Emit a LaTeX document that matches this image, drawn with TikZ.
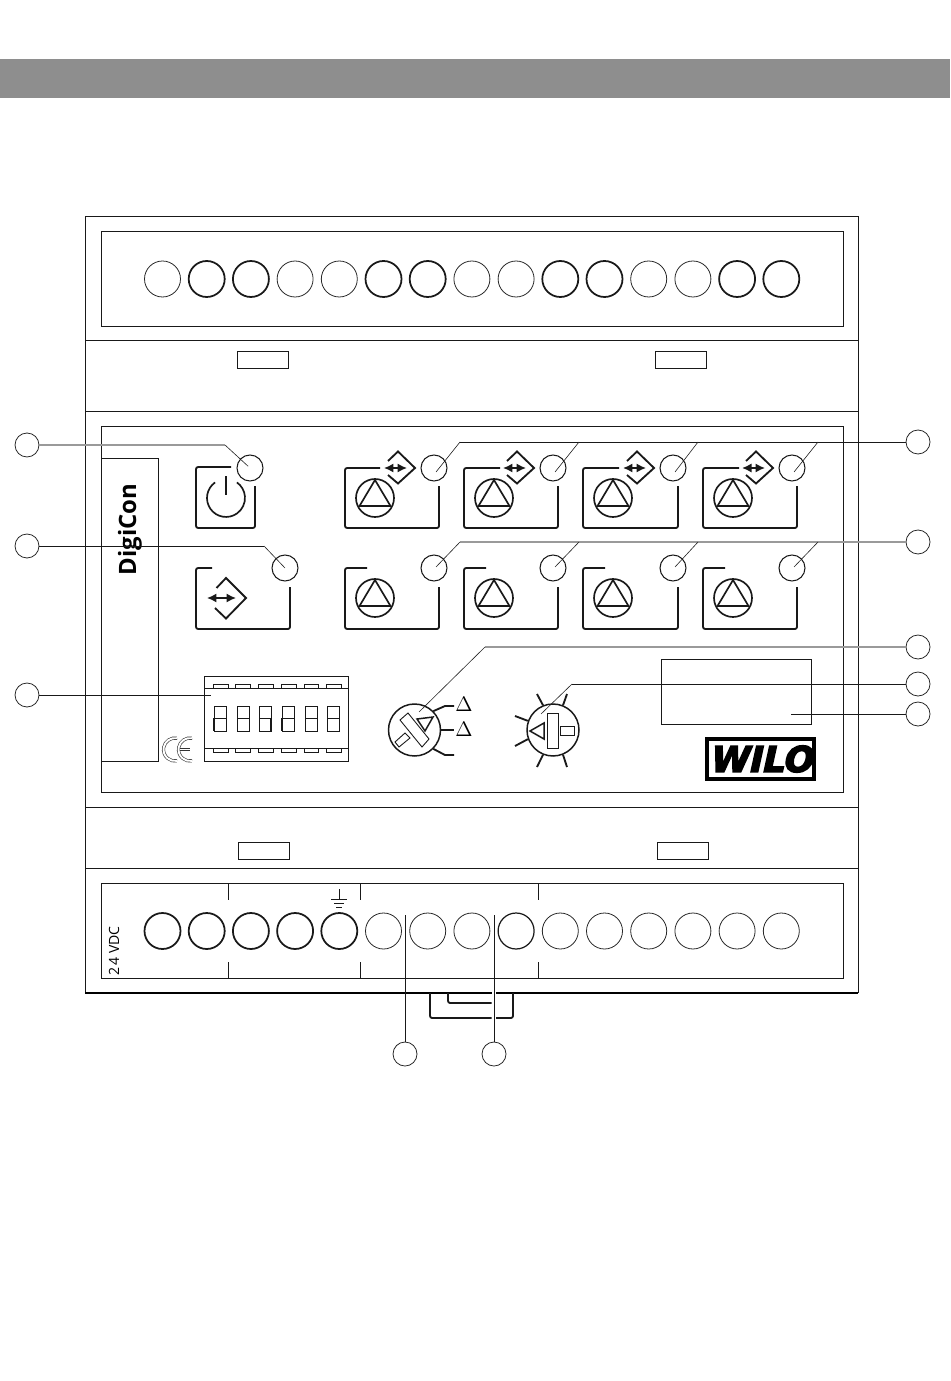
\documentclass[tikz,border=0pt]{standalone}
\usepackage{fontspec}
\setsansfont{Open Sans}
\newfontfamily\wilofont[FakeBold=4.5,FakeSlant=0.22]{DejaVu Sans Bold}
\usetikzlibrary{arrows.meta}
\definecolor{bandgray}{HTML}{8E8E8E}
\definecolor{leadgray}{HTML}{9A9A9A}
\tikzset{
    termk/.style = {circle, line width=1.0pt, draw=black!90, inner sep=0pt, minimum size=0.72cm},
    termn/.style = {circle, line width=0.45pt, draw=black!85, inner sep=0pt, minimum size=0.72cm},
    callout/.style = {circle, line width=0.45pt, draw=black!85, inner sep=0pt, minimum size=0.48cm},
    ledn/.style = {circle, line width=0.6pt, draw=black!90, inner sep=0pt, minimum size=0.52cm},
    pumpc/.style = {circle, line width=0.95pt, draw=black!90, inner sep=0pt, minimum size=0.76cm},
    pumpt/.style = {line width=0.95pt, draw=black!90, line join=miter},
    frame/.style = {line width=0.55pt, draw=black!90},
    btn/.style = {line width=1.05pt, draw=black!90, rounded corners=1.2pt},
    ray/.style = {line width=1.05pt, draw=black!90},
    swt/.style = {line width=0.5pt, draw=black!90},
    leadk/.style = {line width=0.55pt, draw=black!90},
    leadg/.style = {line width=0.95pt, draw=leadgray},
    leadd/.style = {line width=0.35pt, draw=black!85},
    flow/.style = {{Latex[length=5.4pt,width=5.2pt]}-{Latex[length=5.4pt,width=5.2pt]}, line width=0.9pt, black!90},
}
% one pump symbol, #1 is the name of its circle
\newcommand{\PumpT}[1]{\draw[pumpt] (#1.center) ++(0,-18) -- ++(15.5,26) -- ++(-31,0) -- cycle;}
% the open diamond with its arrow, #1 is the centre x and #2 the centre y
\newcommand{\Diam}[2]{
  \draw[ray] (#1-10,#2-7) -- (#1,#2-16.5) -- (#1+17,#2) -- (#1,#2+15.5) -- (#1-10,#2+7);
  \draw[flow] (#1-14,#2) -- (#1+9,#2);
}

\begin{document}
\begin{tikzpicture}[x=0.02cm,y=-0.02cm]
\useasboundingbox (0,0) rectangle (950,1381);
\fill[bandgray] (0,59) rectangle (950,98);
% housing
\draw[frame] (85,993) -- (85,216) -- (858,216) -- (858,993);
\draw[frame] (85,340) -- (858,340);
\draw[frame] (85,411) -- (858,411);
\draw[frame] (85,807) -- (858,807);
\draw[frame] (85,868) -- (858,868);
\draw[line width=1.4pt,black] (85,993) -- (491.5,993);
\draw[line width=1.4pt,black] (496,993) -- (858,993);
\draw[frame] (101,231) rectangle (843,326);
\draw[frame] (101,426) rectangle (843,792);
\draw[frame] (101,883) rectangle (843,978);
\draw[frame] (101,458) -- (158,458) -- (158,761) -- (101,761);
\draw[frame] (237,351) rectangle (288,368);
\draw[frame] (655,351) rectangle (706,368);
\draw[frame] (238,842) rectangle (289,859);
\draw[frame] (657,842) rectangle (708,859);
\draw[frame] (661,659) rectangle (811,724);
\draw[frame] (228,883) -- (228,900);
\draw[frame] (228,962) -- (228,978);
\draw[frame] (360,883) -- (360,900);
\draw[frame] (360,962) -- (360,978);
\draw[frame] (538,883) -- (538,900);
\draw[frame] (538,962) -- (538,978);
% rail foot
\draw[btn] (430,993) -- (430,1018) -- (491.5,1018);
\draw[btn] (496,1018) -- (513,1018) -- (513,993);
\draw[btn] (448,993) -- (448,1003) -- (491.5,1003);
%
\node[font=\sffamily\bfseries\fontsize{13.6}{14}\selectfont, rotate=90] at (130,529.5) (brand) {DigiCon};
\node[font=\sffamily\fontsize{8}{8}\selectfont, rotate=90] at (114,951) (volt) {2\,4 VDC};
% top terminals
\node[termn] at (162.5,279) (a1) {};
\node[termk] at (206.7,279) (a2) {};
\node[termk] at (250.9,279) (a3) {};
\node[termn] at (295.1,279) (a4) {};
\node[termn] at (339.3,279) (a5) {};
\node[termk] at (383.5,279) (a6) {};
\node[termk] at (427.7,279) (a7) {};
\node[termn] at (471.9,279) (a8) {};
\node[termn] at (516.1,279) (a9) {};
\node[termk] at (560.3,279) (a10) {};
\node[termk] at (604.5,279) (a11) {};
\node[termn] at (648.7,279) (a12) {};
\node[termn] at (692.9,279) (a13) {};
\node[termk] at (737.1,279) (a14) {};
\node[termk] at (781.3,279) (a15) {};
% bottom terminals
\node[termk] at (162.5,931) (b1) {};
\node[termk] at (206.7,931) (b2) {};
\node[termk] at (250.9,931) (b3) {};
\node[termk] at (295.1,931) (b4) {};
\node[termk] at (339.3,931) (b5) {};
\node[termn] at (383.5,931) (b6) {};
\node[termn] at (427.7,931) (b7) {};
\node[termn] at (471.9,931) (b8) {};
\node[termk,line width=0.7pt] at (516.1,931) (b9) {};
\node[termn] at (560.3,931) (b10) {};
\node[termn] at (604.5,931) (b11) {};
\node[termn] at (648.7,931) (b12) {};
\node[termn] at (692.9,931) (b13) {};
\node[termn] at (737.1,931) (b14) {};
\node[termn] at (781.3,931) (b15) {};
% earth
\draw[frame] (339,889) -- (339,899);
\draw[frame] (331,899) -- (347,899);
\draw[frame] (334,903) -- (344,903);
\draw[frame] (336,907) -- (342,907);
% power and comm buttons
\draw[btn] (231,467) -- (196,467) -- (196,528) -- (255,528) -- (255,486);
\draw[line width=0.95pt,black!90] (215.1,482.4) arc[start angle=125,delta angle=290,radius=0.38cm];
\draw[line width=0.95pt,black!90] (226,476) -- (226,495);
\node[ledn] at (250,468) (ledp) {};
\draw[btn] (212,568) -- (196,568) -- (196,629) -- (290,629) -- (290,587);
\draw[ray] (216.5,588) -- (226,578) -- (246,598) -- (226,618.5) -- (215,608);
\draw[flow] (207,598) -- (236,598);
\node[ledn] at (285,568) (ledc) {};
% upper pump row
\draw[btn] (380,468) -- (345,468) -- (345,528) -- (439,528) -- (439,486);
\draw[btn] (500,468) -- (464,468) -- (464,528) -- (558,528) -- (558,486);
\draw[btn] (619,468) -- (583,468) -- (583,528) -- (678,528) -- (678,486);
\draw[btn] (739,468) -- (703,468) -- (703,528) -- (797,528) -- (797,486);
\Diam{398}{468}
\Diam{517}{468}
\Diam{637}{468}
\Diam{756}{468}
\node[ledn] at (434,468) (lu1) {};
\node[ledn] at (553,468) (lu2) {};
\node[ledn] at (673,468) (lu3) {};
\node[ledn] at (792,468) (lu4) {};
\node[pumpc] at (375,498) (pu1) {};
\node[pumpc] at (494,498) (pu2) {};
\node[pumpc] at (613,498) (pu3) {};
\node[pumpc] at (733,498) (pu4) {};
\PumpT{pu1}
\PumpT{pu2}
\PumpT{pu3}
\PumpT{pu4}
% lower pump row
\draw[btn] (367,568) -- (345,568) -- (345,629) -- (439,629) -- (439,587);
\draw[btn] (486,568) -- (464,568) -- (464,629) -- (558,629) -- (558,587);
\draw[btn] (605,568) -- (583,568) -- (583,629) -- (678,629) -- (678,587);
\draw[btn] (725,568) -- (703,568) -- (703,629) -- (797,629) -- (797,587);
\node[ledn] at (434,568) (ll1) {};
\node[ledn] at (553,568) (ll2) {};
\node[ledn] at (673,568) (ll3) {};
\node[ledn] at (792,568) (ll4) {};
\node[pumpc] at (375,598) (pl1) {};
\node[pumpc] at (494,598) (pl2) {};
\node[pumpc] at (613,598) (pl3) {};
\node[pumpc] at (733,598) (pl4) {};
\PumpT{pl1}
\PumpT{pl2}
\PumpT{pl3}
\PumpT{pl4}
% dip switch
\draw[frame] (204,676) rectangle (348,761);
\draw[frame] (204,688) -- (348,688);
\draw[frame] (204,748) -- (348,748);
\draw[swt] (213,688) rectangle (228,684);
\draw[swt] (235,688) rectangle (250,684);
\draw[swt] (258,688) rectangle (273,684);
\draw[swt] (281,688) rectangle (296,684);
\draw[swt] (304,688) rectangle (318,684);
\draw[swt] (326,688) rectangle (341,684);
\draw[swt] (213,748) rectangle (228,752);
\draw[swt] (235,748) rectangle (250,752);
\draw[swt] (258,748) rectangle (273,752);
\draw[swt] (281,748) rectangle (296,752);
\draw[swt] (304,748) rectangle (318,752);
\draw[swt] (326,748) rectangle (341,752);
\draw[swt] (214,706) rectangle (226,731);
\draw[swt] (214,718) -- (226,718);
\draw[swt] (237,706) rectangle (249,731);
\draw[swt] (237,718) -- (249,718);
\draw[swt] (259,706) rectangle (271,731);
\draw[swt] (259,718) -- (271,718);
\draw[swt] (282,706) rectangle (294,731);
\draw[swt] (282,718) -- (294,718);
\draw[swt] (305,706) rectangle (317,731);
\draw[swt] (305,718) -- (317,718);
\draw[swt] (327,706) rectangle (339,731);
\draw[swt] (327,718) -- (339,718);
\draw[line width=1.3pt,black!90] (214,718) -- (214,731);
\draw[line width=1.1pt,black!90] (271,718) -- (271,731);
\draw[line width=1.3pt,black!90] (282,718) -- (282,731);
% ce mark
\draw[double=white,double distance=1.1pt,line width=0.35pt,draw=black!80] (177,738.2) arc[start angle=80,delta angle=200,radius=0.23cm];
\draw[double=white,double distance=1.1pt,line width=0.35pt,draw=black!80] (192,738.2) arc[start angle=80,delta angle=200,radius=0.23cm];
\draw[double=white,double distance=1.1pt,line width=0.35pt,draw=black!80] (180,749.5) -- (190,749.5);
% left dial
\node[circle,line width=0.85pt,draw=black!90,inner sep=0pt,minimum size=1.04cm] at (414.5,730) (dial) {};
\draw[swt] (400,720) -- (408,713) -- (429,739) -- (422,747) -- cycle;
\draw[line width=0.85pt,black!90] (417,719) -- (433,717) -- (425,731) -- cycle;
\draw[swt] (395,742) -- (405,733) -- (410,738) -- (399,747) -- cycle;
\draw[ray] (dial.45) -- (445,706) -- (454,706);
\draw[ray] (dial.east) -- (454,730);
\draw[ray] (dial.-45) -- (445,755) -- (454,755);
\node[font=\fontsize{11.5}{12}\selectfont] at (464,704) (dl1) {$\Delta$};
\node[font=\fontsize{11.5}{12}\selectfont] at (464,729) (dl2) {$\Delta$};
% right dial
\node[circle,line width=0.85pt,draw=black!90,inner sep=0pt,minimum size=1.04cm] at (553,730) (rot) {};
\draw[swt] (547,713) rectangle (558,748);
\draw[line width=0.85pt,black!90] (530,731) -- (544,723) -- (544,739) -- cycle;
\draw[swt] (560,726) rectangle (574,735);
\draw[ray] (537,694) -- (rot.112);
\draw[ray] (567,694) -- (rot.68);
\draw[ray] (515,716) -- (rot.160);
\draw[ray] (515,746) -- (rot.200);
\draw[ray] (537,767) -- (rot.-112);
\draw[ray] (567,767) -- (rot.-68);
% logo
\node[draw=black,line width=2.1pt,inner sep=0pt,minimum width=2.14cm,minimum height=0.8cm,font=\wilofont\fontsize{20}{20}\selectfont] at (760.5,759) (wilo) {WILO};
% callouts
\node[callout] at (27,445) (c1) {};
\node[callout] at (27,546) (c2) {};
\node[callout] at (27,695) (c3) {};
\node[callout] at (918,442) (c4) {};
\node[callout] at (918,542) (c5) {};
\node[callout] at (918,647) (c6) {};
\node[callout] at (918,684) (c7) {};
\node[callout] at (918,714) (c8) {};
\node[callout] at (405,1054) (c9) {};
\node[callout] at (494,1054) (c10) {};
\coordinate (k1) at (225,445);
\coordinate (k2) at (264,546);
\coordinate (k3) at (211,695);
\coordinate (k4) at (460,442);
\coordinate (k5) at (460,542);
\coordinate (k6) at (485,647);
\coordinate (e6) at (419,712);
\coordinate (k7) at (572,684);
\coordinate (e7) at (541,714);
\coordinate (k8) at (791,714);
\coordinate (k9) at (405,915);
\coordinate (k10) at (494,915);
% leaders
\draw[leadg] (c1) -- (k1);
\draw[leadd,shorten >=1.5pt] (k1) -- (ledp.center);
\draw[leadk] (c2) -- (k2);
\draw[leadd] (k2) -- (ledc.center);
\draw[leadk] (c3) -- (k3);
\draw[leadk] (c4) -- (k4);
\draw[leadd] (k4) -- ([shift={(2,4)}]lu1.center);
\draw[leadd] (579,442) -- ([shift={(2,4)}]lu2.center);
\draw[leadd] (698,442) -- ([shift={(2,4)}]lu3.center);
\draw[leadd] (818,442) -- ([shift={(2,4)}]lu4.center);
\draw[leadg] (c5) -- (k5);
\draw[leadd] (k5) -- ([shift={(2,-1)}]ll1.center);
\draw[leadd] (579,542) -- ([shift={(2,-1)}]ll2.center);
\draw[leadd] (698,542) -- ([shift={(2,-1)}]ll3.center);
\draw[leadd] (818,542) -- ([shift={(2,-1)}]ll4.center);
\draw[leadg] (c6) -- (k6);
\draw[leadd] (k6) -- (e6);
\draw[leadk] (c7) -- (k7);
\draw[leadd] (k7) -- (e7);
\draw[leadk] (c8) -- (k8);
\draw[leadk] (c9) -- (k9);
\draw[leadk] (c10) -- (k10);
\end{tikzpicture}
\end{document}
